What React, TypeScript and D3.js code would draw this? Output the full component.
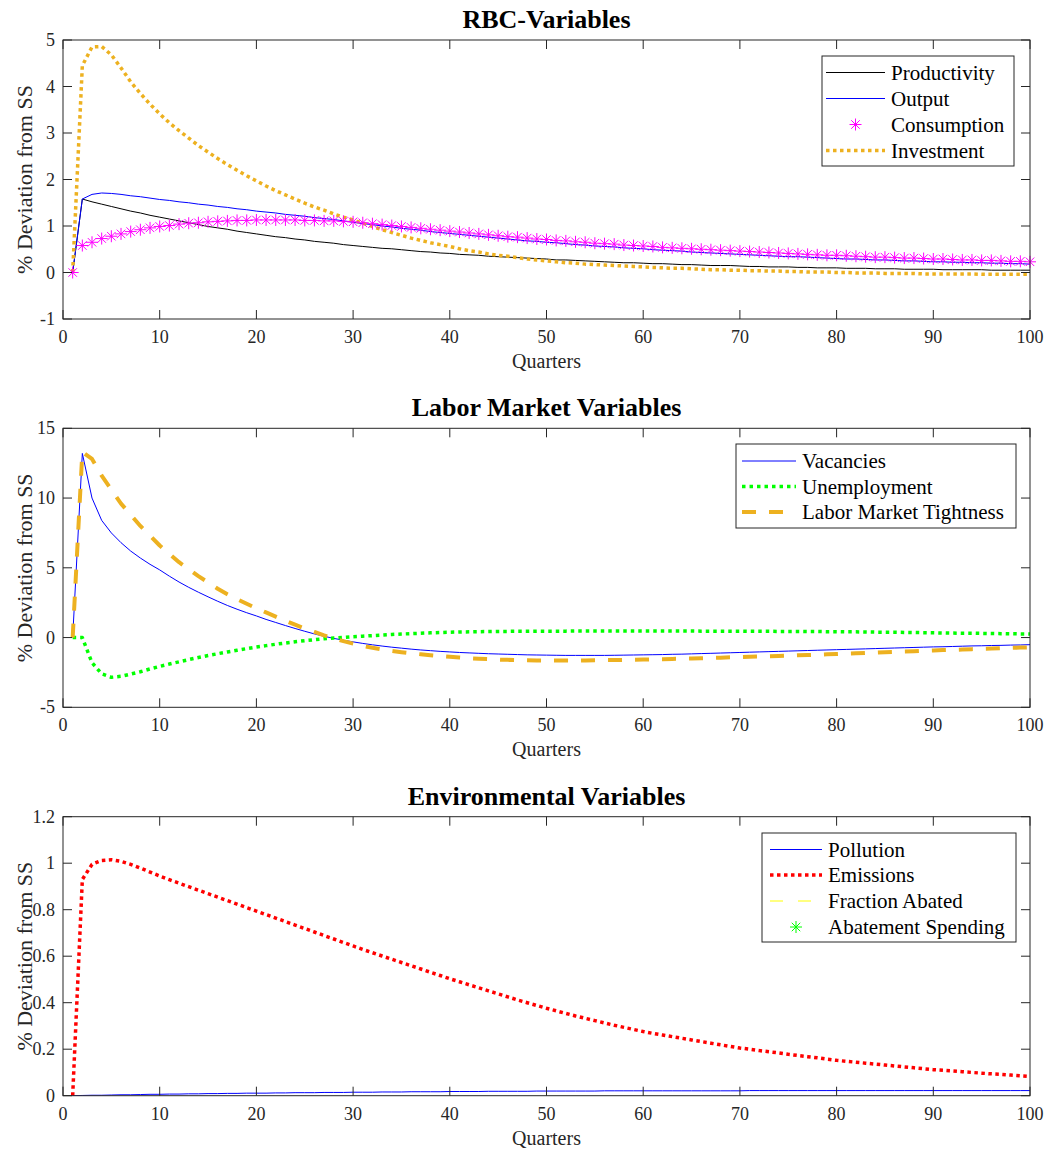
import React from "react";
import * as d3 from "d3";

// ---------------- DATA ----------------
const quarters = d3.range(1, 101);
const xTicks = [0, 10, 20, 30, 40, 50, 60, 70, 80, 90, 100];

const productivity = [
  0, 1.58, 1.52, 1.47, 1.42, 1.37, 1.32, 1.28, 1.23, 1.19,
  1.15, 1.11, 1.07, 1.03, 0.99, 0.96, 0.93, 0.89, 0.86, 0.83,
  0.8, 0.77, 0.75, 0.72, 0.7, 0.67, 0.65, 0.63, 0.6, 0.58,
  0.56, 0.54, 0.52, 0.51, 0.49, 0.47, 0.45, 0.44, 0.42, 0.41,
  0.39, 0.38, 0.37, 0.35, 0.34, 0.33, 0.32, 0.31, 0.3, 0.29,
  0.27, 0.27, 0.26, 0.25, 0.24, 0.23, 0.22, 0.21, 0.21, 0.2,
  0.19, 0.19, 0.18, 0.17, 0.17, 0.16, 0.15, 0.15, 0.15, 0.14,
  0.13, 0.13, 0.12, 0.12, 0.12, 0.11, 0.11, 0.1, 0.1, 0.1,
  0.09, 0.09, 0.09, 0.08, 0.08, 0.08, 0.07, 0.07, 0.07, 0.07,
  0.06, 0.06, 0.06, 0.06, 0.06, 0.05, 0.05, 0.05, 0.05, 0.05,
];

const output = [
  0, 1.58, 1.68, 1.71, 1.7, 1.68, 1.65, 1.63, 1.6, 1.57,
  1.55, 1.52, 1.5, 1.47, 1.45, 1.42, 1.4, 1.37, 1.35, 1.32,
  1.3, 1.28, 1.25, 1.23, 1.21, 1.18, 1.16, 1.14, 1.11, 1.08,
  1.05, 1.03, 1.0, 0.98, 0.95, 0.93, 0.91, 0.88, 0.86, 0.84,
  0.82, 0.8, 0.78, 0.76, 0.74, 0.72, 0.7, 0.68, 0.67, 0.65,
  0.64, 0.62, 0.6, 0.59, 0.57, 0.56, 0.55, 0.53, 0.52, 0.51,
  0.49, 0.48, 0.47, 0.46, 0.44, 0.43, 0.42, 0.41, 0.4, 0.39,
  0.38, 0.37, 0.36, 0.35, 0.34, 0.34, 0.33, 0.32, 0.31, 0.3,
  0.29, 0.29, 0.28, 0.27, 0.27, 0.26, 0.25, 0.25, 0.24, 0.23,
  0.23, 0.22, 0.22, 0.21, 0.21, 0.2, 0.2, 0.19, 0.19, 0.18,
];

const consumption = [
  0, 0.58, 0.65, 0.73, 0.78, 0.83, 0.88, 0.92, 0.96, 0.99,
  1.01, 1.04, 1.06, 1.07, 1.09, 1.1, 1.11, 1.12, 1.12, 1.13,
  1.13, 1.13, 1.13, 1.13, 1.12, 1.12, 1.11, 1.11, 1.1, 1.09,
  1.07, 1.05, 1.03, 1.01, 0.99, 0.97, 0.95, 0.93, 0.91, 0.89,
  0.87, 0.85, 0.83, 0.81, 0.79, 0.77, 0.76, 0.74, 0.72, 0.71,
  0.69, 0.68, 0.66, 0.65, 0.63, 0.62, 0.61, 0.59, 0.58, 0.57,
  0.56, 0.54, 0.53, 0.52, 0.51, 0.5, 0.49, 0.48, 0.47, 0.46,
  0.45, 0.44, 0.43, 0.42, 0.41, 0.4, 0.39, 0.38, 0.37, 0.37,
  0.36, 0.35, 0.34, 0.33, 0.33, 0.32, 0.31, 0.31, 0.3, 0.29,
  0.29, 0.28, 0.27, 0.27, 0.26, 0.26, 0.25, 0.24, 0.24, 0.23,
];

const investment = [
  0, 4.45, 4.85, 4.86, 4.68, 4.4, 4.1, 3.85, 3.62, 3.41,
  3.22, 3.05, 2.89, 2.73, 2.59, 2.45, 2.32, 2.2, 2.08, 1.97,
  1.86, 1.76, 1.67, 1.58, 1.49, 1.41, 1.34, 1.26, 1.19, 1.13,
  1.06, 0.99, 0.92, 0.86, 0.8, 0.74, 0.69, 0.64, 0.6, 0.56,
  0.51, 0.47, 0.44, 0.4, 0.37, 0.35, 0.32, 0.29, 0.27, 0.25,
  0.23, 0.21, 0.2, 0.18, 0.17, 0.16, 0.15, 0.14, 0.13, 0.12,
  0.11, 0.1, 0.09, 0.09, 0.08, 0.07, 0.06, 0.06, 0.05, 0.05,
  0.04, 0.04, 0.03, 0.03, 0.02, 0.02, 0.01, 0.01, 0.01, 0.0,
  0.0, -0.01, -0.01, -0.01, -0.02, -0.02, -0.02, -0.02, -0.03, -0.03,
  -0.03, -0.03, -0.03, -0.03, -0.04, -0.04, -0.04, -0.04, -0.04, -0.04,
];

const vacancies = [
  0, 13.2, 10.0, 8.4, 7.5, 6.8, 6.2, 5.7, 5.25, 4.85,
  4.4, 3.98, 3.6, 3.25, 2.92, 2.6, 2.3, 2.03, 1.78, 1.55,
  1.3, 1.08, 0.86, 0.65, 0.45, 0.26, 0.09, -0.06, -0.19, -0.31,
  -0.42, -0.52, -0.61, -0.69, -0.76, -0.83, -0.89, -0.94, -0.99, -1.03,
  -1.07, -1.1, -1.13, -1.16, -1.18, -1.2, -1.22, -1.24, -1.25, -1.26,
  -1.27, -1.28, -1.28, -1.28, -1.28, -1.28, -1.27, -1.26, -1.25, -1.24,
  -1.23, -1.22, -1.2, -1.19, -1.17, -1.15, -1.13, -1.11, -1.09, -1.07,
  -1.05, -1.03, -1.01, -0.99, -0.97, -0.95, -0.93, -0.91, -0.89, -0.87,
  -0.85, -0.83, -0.81, -0.79, -0.77, -0.75, -0.73, -0.71, -0.69, -0.67,
  -0.66, -0.64, -0.62, -0.6, -0.59, -0.57, -0.56, -0.54, -0.53, -0.51,
];

const unemployment = [
  0, 0, -1.8, -2.6, -2.85, -2.78, -2.62, -2.45, -2.25, -2.07,
  -1.9, -1.74, -1.58, -1.43, -1.29, -1.16, -1.03, -0.91, -0.79, -0.68,
  -0.58, -0.48, -0.39, -0.3, -0.22, -0.15, -0.08, -0.03, 0.01, 0.06,
  0.1, 0.14, 0.18, 0.22, 0.25, 0.28, 0.31, 0.34, 0.36, 0.38,
  0.4, 0.41, 0.42, 0.43, 0.44, 0.44, 0.45, 0.45, 0.46, 0.46,
  0.46, 0.46, 0.47, 0.47, 0.47, 0.47, 0.47, 0.47, 0.47, 0.47,
  0.47, 0.47, 0.47, 0.47, 0.47, 0.46, 0.46, 0.46, 0.46, 0.46,
  0.45, 0.45, 0.45, 0.44, 0.44, 0.44, 0.43, 0.43, 0.42, 0.42,
  0.41, 0.41, 0.4, 0.39, 0.38, 0.38, 0.37, 0.36, 0.35, 0.34,
  0.33, 0.32, 0.31, 0.31, 0.3, 0.29, 0.28, 0.27, 0.26, 0.25,
];

const tightness = [
  0, 13.3, 12.8, 11.6, 10.6, 9.6, 8.8, 8.0, 7.3, 6.6,
  6.0, 5.4, 4.9, 4.4, 3.95, 3.5, 3.1, 2.75, 2.42, 2.1,
  1.8, 1.5, 1.2, 0.92, 0.65, 0.4, 0.16, -0.06, -0.26, -0.44,
  -0.6, -0.73, -0.85, -0.96, -1.05, -1.13, -1.2, -1.27, -1.33, -1.38,
  -1.43, -1.48, -1.52, -1.55, -1.58, -1.6, -1.62, -1.63, -1.64, -1.65,
  -1.65, -1.65, -1.65, -1.64, -1.63, -1.62, -1.61, -1.6, -1.59, -1.58,
  -1.56, -1.55, -1.53, -1.52, -1.5, -1.48, -1.46, -1.44, -1.42, -1.4,
  -1.38, -1.36, -1.34, -1.32, -1.3, -1.27, -1.25, -1.23, -1.2, -1.18,
  -1.15, -1.13, -1.1, -1.08, -1.05, -1.03, -1.0, -0.98, -0.95, -0.93,
  -0.9, -0.88, -0.86, -0.83, -0.81, -0.79, -0.76, -0.74, -0.72, -0.7,
];

const pollution = [
  0, 0.001, 0.002, 0.002, 0.003, 0.004, 0.004, 0.005, 0.006, 0.006,
  0.007, 0.007, 0.008, 0.008, 0.009, 0.009, 0.01, 0.01, 0.011, 0.011,
  0.011, 0.012, 0.012, 0.013, 0.013, 0.013, 0.014, 0.014, 0.014, 0.015,
  0.015, 0.015, 0.016, 0.016, 0.016, 0.017, 0.017, 0.017, 0.017, 0.018,
  0.018, 0.018, 0.018, 0.019, 0.019, 0.019, 0.019, 0.019, 0.02, 0.02,
  0.02, 0.02, 0.02, 0.02, 0.02, 0.021, 0.021, 0.021, 0.021, 0.021,
  0.021, 0.021, 0.021, 0.021, 0.021, 0.021, 0.021, 0.021, 0.021, 0.021,
  0.022, 0.022, 0.022, 0.022, 0.022, 0.022, 0.022, 0.022, 0.022, 0.022,
  0.022, 0.022, 0.022, 0.022, 0.022, 0.022, 0.022, 0.022, 0.022, 0.022,
  0.022, 0.022, 0.022, 0.022, 0.022, 0.022, 0.022, 0.022, 0.022, 0.022,
];

const emissions = [
  0, 0.93, 0.995, 1.012, 1.015, 1.008, 0.995, 0.979, 0.962, 0.945,
  0.929, 0.914, 0.899, 0.884, 0.869, 0.854, 0.839, 0.824, 0.809, 0.794,
  0.779, 0.764, 0.749, 0.734, 0.719, 0.704, 0.689, 0.674, 0.659, 0.644,
  0.629, 0.615, 0.601, 0.587, 0.573, 0.559, 0.545, 0.531, 0.517, 0.503,
  0.49, 0.477, 0.464, 0.451, 0.438, 0.425, 0.412, 0.4, 0.388, 0.376,
  0.365, 0.354, 0.343, 0.333, 0.323, 0.313, 0.303, 0.294, 0.285, 0.276,
  0.268, 0.261, 0.254, 0.247, 0.24, 0.233, 0.226, 0.219, 0.212, 0.205,
  0.2, 0.194, 0.189, 0.184, 0.178, 0.173, 0.168, 0.163, 0.157, 0.152,
  0.148, 0.144, 0.14, 0.136, 0.132, 0.128, 0.124, 0.12, 0.116, 0.112,
  0.109, 0.106, 0.103, 0.1, 0.097, 0.094, 0.092, 0.089, 0.086, 0.083,
];

// not visible in the plot area (legend entries only)
const fractionAbated: number[] = [];
const abatementSpending: number[] = [];

const rbcTicks = [-1, 0, 1, 2, 3, 4, 5];
const laborTicks = [-5, 0, 5, 10, 15];
const envTicks = [0, 0.2, 0.4, 0.6, 0.8, 1, 1.2];

// ---------------- LAYOUT ----------------
const W = 1049;
const H = 1154;
const LEFT = 63;
const RIGHT = 1030;
const PH = 279;
const FONT = "'Liberation Serif', 'Times New Roman', Times, serif";
const AX = "#262626";
const GOLD = "#EDB120";

type Series = {
  name: string;
  values: number[];
  color: string;
  width: number;
  dash?: string;
  line?: boolean;
  marker?: boolean;
};

type PanelCfg = {
  title: string;
  top: number;
  yDomain: [number, number];
  yTicks: number[];
  series: Series[];
  legend: { x0: number; x1: number; y0: number; y1: number; s0: number; s1: number; tx: number; rows: number[] };
};

function Asterisk({ x, y, r, color }: { x: number; y: number; r: number; color: string }) {
  const d = r * 0.7071;
  return (
    <g stroke={color} strokeWidth={1} fill="none">
      <line x1={x - r} y1={y} x2={x + r} y2={y} />
      <line x1={x} y1={y - r} x2={x} y2={y + r} />
      <line x1={x - d} y1={y - d} x2={x + d} y2={y + d} />
      <line x1={x - d} y1={y + d} x2={x + d} y2={y - d} />
    </g>
  );
}

function Panel({ cfg }: { cfg: PanelCfg }) {
  const x = d3.scaleLinear().domain([0, 100]).range([LEFT, RIGHT]);
  const y = d3.scaleLinear().domain(cfg.yDomain).range([cfg.top + PH, cfg.top]);
  const bottom = cfg.top + PH;
  const line = d3
    .line<number>()
    .x((_, i) => x(quarters[i]))
    .y((d) => y(d));
  const clipId = "clip-" + Math.round(cfg.top);
  const TL = 9;
  const lg = cfg.legend;
  return (
    <g>
      <defs>
        <clipPath id={clipId}>
          <rect x={LEFT} y={cfg.top} width={RIGHT - LEFT} height={PH} />
        </clipPath>
      </defs>
      <rect x={LEFT} y={cfg.top} width={RIGHT - LEFT} height={PH} fill="#fff" />
      <g clipPath={`url(#${clipId})`}>
        {cfg.series.map((s) =>
          s.values.length > 0 && s.line !== false ? (
            <path
              key={s.name}
              d={line(s.values) || ""}
              fill="none"
              stroke={s.color}
              strokeWidth={s.width}
              strokeDasharray={s.dash}
              strokeLinejoin="round"
            />
          ) : null
        )}
      </g>
      {cfg.series.map((s) =>
        s.marker ? (
          <g key={s.name + "-m"}>
            {s.values.map((v, i) => (
              <Asterisk key={i} x={x(quarters[i])} y={y(v)} r={6} color={s.color} />
            ))}
          </g>
        ) : null
      )}
      <rect x={LEFT} y={cfg.top} width={RIGHT - LEFT} height={PH} fill="none" stroke={AX} strokeWidth={1} />
      {xTicks.map((t) => (
        <g key={"x" + t}>
          <line x1={x(t)} x2={x(t)} y1={bottom} y2={bottom - TL} stroke={AX} />
          <line x1={x(t)} x2={x(t)} y1={cfg.top} y2={cfg.top + TL} stroke={AX} />
          <text x={x(t)} y={bottom + 24} textAnchor="middle" fontSize={18} fill={AX} fontFamily={FONT}>
            {t}
          </text>
        </g>
      ))}
      {cfg.yTicks.map((t) => (
        <g key={"y" + t}>
          <line x1={LEFT} x2={LEFT + TL} y1={y(t)} y2={y(t)} stroke={AX} />
          <line x1={RIGHT} x2={RIGHT - TL} y1={y(t)} y2={y(t)} stroke={AX} />
          <text x={LEFT - 8} y={y(t) + 6} textAnchor="end" fontSize={18} fill={AX} fontFamily={FONT}>
            {String(+t.toFixed(1))}
          </text>
        </g>
      ))}
      <text x={(LEFT + RIGHT) / 2} y={cfg.top - 12} textAnchor="middle" fontSize={26} fontWeight="bold" fill="#000" fontFamily={FONT}>
        {cfg.title}
      </text>
      <text x={(LEFT + RIGHT) / 2} y={bottom + 49} textAnchor="middle" fontSize={20} fill={AX} fontFamily={FONT}>
        Quarters
      </text>
      <text
        transform={`translate(32, ${cfg.top + PH / 2}) rotate(-90)`}
        textAnchor="middle"
        fontSize={22}
        fill={AX}
        fontFamily={FONT}
      >
        % Deviation from SS
      </text>
      <rect x={lg.x0} y={lg.y0} width={lg.x1 - lg.x0} height={lg.y1 - lg.y0} fill="#fff" stroke={AX} strokeWidth={1} />
      {cfg.series.map((s, i) => {
        const ry = lg.rows[i];
        return (
          <g key={"lg" + s.name}>
            {s.line !== false ? (
              <line x1={lg.s0} x2={lg.s1} y1={ry} y2={ry} stroke={s.color} strokeWidth={s.width} strokeDasharray={s.dash} />
            ) : null}
            {s.marker ? <Asterisk x={(lg.s0 + lg.s1) / 2} y={ry} r={6} color={s.color} /> : null}
            <text x={lg.tx} y={ry + 7} fontSize={21} fill="#000" fontFamily={FONT}>
              {s.name}
            </text>
          </g>
        );
      })}
    </g>
  );
}

const panels: PanelCfg[] = [
  {
    title: "RBC-Variables",
    top: 40,
    yDomain: [-1, 5],
    yTicks: rbcTicks,
    series: [
      { name: "Productivity", values: productivity, color: "#000000", width: 1 },
      { name: "Output", values: output, color: "#0000FF", width: 1 },
      { name: "Consumption", values: consumption, color: "#FF00FF", width: 1, marker: true, line: false },
      { name: "Investment", values: investment, color: GOLD, width: 3.5, dash: "3.5 3.5" },
    ],
    legend: { x0: 822, x1: 1014, y0: 56, y1: 166, s0: 826, s1: 885, tx: 891, rows: [72.5, 98.5, 124.5, 150.5] },
  },
  {
    title: "Labor Market Variables",
    top: 428.3,
    yDomain: [-5, 15],
    yTicks: laborTicks,
    series: [
      { name: "Vacancies", values: vacancies, color: "#0000FF", width: 1 },
      { name: "Unemployment", values: unemployment, color: "#00FF00", width: 3.5, dash: "3.5 4" },
      { name: "Labor Market Tightness", values: tightness, color: GOLD, width: 4, dash: "14 13" },
    ],
    legend: { x0: 736, x1: 1016, y0: 444, y1: 528, s0: 742, s1: 796, tx: 802, rows: [461, 486.5, 512] },
  },
  {
    title: "Environmental Variables",
    top: 816.7,
    yDomain: [0, 1.2],
    yTicks: envTicks,
    series: [
      { name: "Pollution", values: pollution, color: "#0000FF", width: 1 },
      { name: "Emissions", values: emissions, color: "#FF0000", width: 3.5, dash: "3.5 3.5" },
      { name: "Fraction Abated", values: fractionAbated, color: "#FFFF00", width: 1, dash: "13 15" },
      { name: "Abatement Spending", values: abatementSpending, color: "#00FF00", width: 1, marker: true, line: false },
    ],
    legend: { x0: 762, x1: 1016, y0: 833, y1: 942, s0: 770, s1: 822, tx: 828, rows: [849.5, 875, 901, 927] },
  },
];

export default function App() {
  return (
    <svg
      width={W}
      height={H}
      viewBox={`0 0 ${W} ${H}`}
      style={{ position: "absolute", left: 0, top: 0, display: "block", background: "#fff", fontFamily: FONT }}
    >
      <rect x={0} y={0} width={W} height={H} fill="#fff" />
      {panels.map((p) => (
        <Panel key={p.title} cfg={p} />
      ))}
    </svg>
  );
}
